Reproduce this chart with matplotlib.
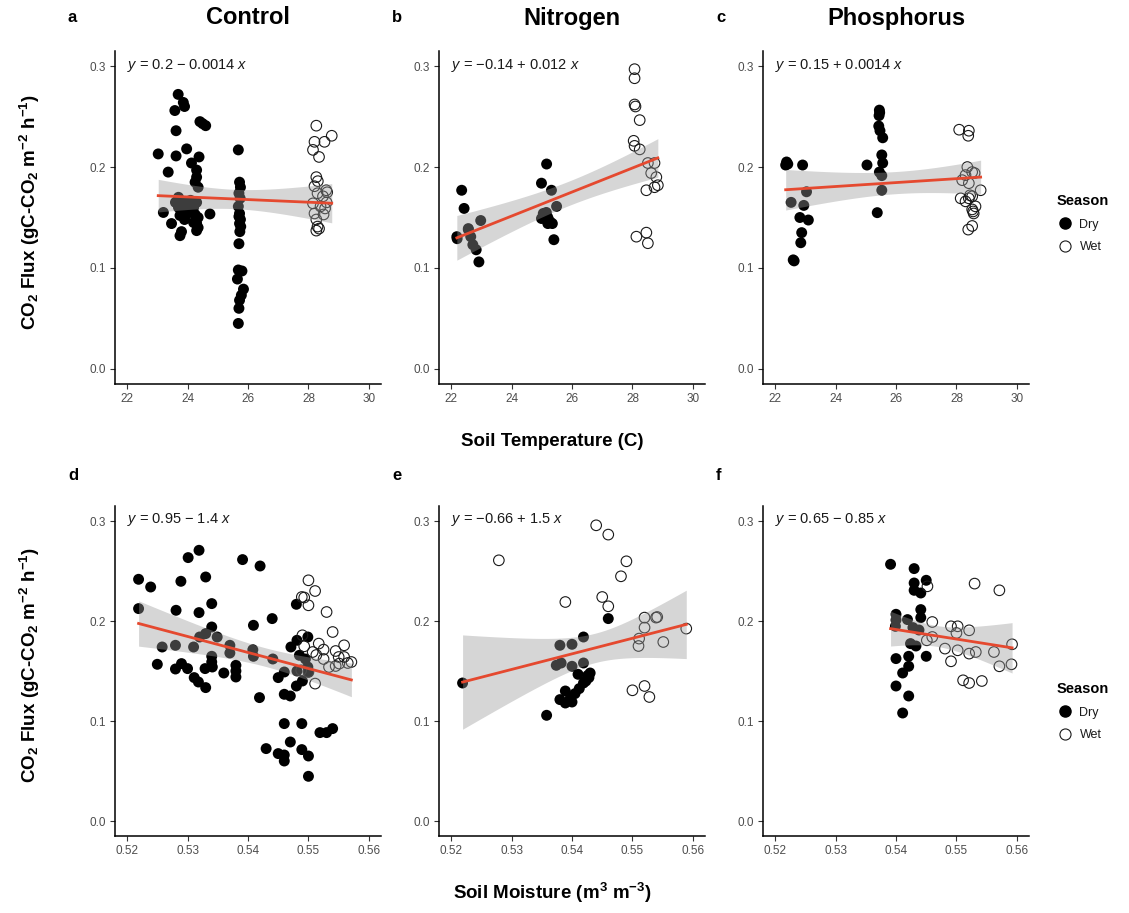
import numpy as np
import matplotlib
matplotlib.use("Agg")
import matplotlib.pyplot as plt
from matplotlib.lines import Line2D

plt.rcParams['font.family'] = ['Liberation Sans', 'DejaVu Sans']
plt.rcParams['mathtext.fontset'] = 'custom'
plt.rcParams['mathtext.rm'] = 'Liberation Sans'
plt.rcParams['mathtext.it'] = 'Liberation Sans:italic'
plt.rcParams['mathtext.bf'] = 'Liberation Sans:bold'

# ---------------- data ----------------
panel_letters = ['a', 'b', 'c', 'd', 'e', 'f']
treatments = ['Control', 'Nitrogen', 'Phosphorus']
season_labels = ['Dry', 'Wet']
eq_labels = [r'$\mathit{y}$ = 0.2 − 0.0014 $\mathit{x}$',
             r'$\mathit{y}$ = −0.14 + 0.012 $\mathit{x}$',
             r'$\mathit{y}$ = 0.15 + 0.0014 $\mathit{x}$',
             r'$\mathit{y}$ = 0.95 − 1.4 $\mathit{x}$',
             r'$\mathit{y}$ = −0.66 + 1.5 $\mathit{x}$',
             r'$\mathit{y}$ = 0.65 − 0.85 $\mathit{x}$']
temp_ticks = [22, 24, 26, 28, 30]
moist_ticks = [0.52, 0.53, 0.54, 0.55, 0.56]
flux_ticks = [0.0, 0.1, 0.2, 0.3]

# Panel a: Control vs temperature
a_dry_x = [23.03, 23.69, 23.86, 23.9, 23.58, 23.62, 24.41, 24.6, 24.5, 23.97, 23.62, 23.36, 24.38, 24.13,
           24.3, 24.3, 24.25, 24.35, 23.7, 23.8, 23.75, 24.1, 24.2, 23.9, 23.6, 24.0, 24.3, 23.7, 23.85,
           24.15, 23.2, 24.74, 23.75, 23.9, 24.25, 24.35, 23.47, 23.8, 23.75, 24.3, 24.3, 24.35,
           23.9, 24.1, 24.2,
           25.68, 25.72, 25.75, 25.7, 25.74, 25.68, 25.72, 25.7, 25.75, 25.72, 25.76, 25.73, 25.7,
           25.68, 25.8, 25.65, 25.85, 25.78, 25.72, 25.7, 25.68]
a_dry_y = [0.213, 0.272, 0.264, 0.260, 0.256, 0.236, 0.245, 0.241, 0.243, 0.218, 0.211, 0.195, 0.210, 0.204,
           0.197, 0.190, 0.185, 0.180, 0.170, 0.166, 0.162, 0.167, 0.160, 0.158, 0.165, 0.163, 0.165, 0.160, 0.158,
           0.160, 0.155, 0.1535, 0.152, 0.150, 0.153, 0.150, 0.144, 0.136, 0.132, 0.144, 0.137, 0.140,
           0.148, 0.155, 0.145,
           0.217, 0.185, 0.180, 0.174, 0.169, 0.161, 0.154, 0.151, 0.148, 0.144, 0.141, 0.136, 0.124,
           0.098, 0.097, 0.089, 0.079, 0.073, 0.068, 0.060, 0.045]
a_wet_x = [28.26, 28.77, 28.53, 28.2, 28.15, 28.35, 28.26, 28.31, 28.2, 28.59, 28.3, 28.48, 28.15, 28.4,
           28.55, 28.2, 28.5, 28.26, 28.35, 28.3, 28.26, 28.6, 28.62]
a_wet_y = [0.241, 0.231, 0.225, 0.225, 0.217, 0.210, 0.190, 0.186, 0.181, 0.177, 0.174, 0.171, 0.164, 0.161,
           0.159, 0.154, 0.153, 0.148, 0.139, 0.141, 0.137, 0.165, 0.175]

# Panel b: Nitrogen vs temperature
b_dry_x = [22.35, 22.43, 22.98, 22.57, 22.19, 22.2, 22.57, 22.65, 22.72, 22.83, 22.92,
           25.16, 24.99, 25.32, 25.49, 25.05, 25.15, 24.99, 25.27, 25.2, 25.35, 25.4, 25.2]
b_dry_y = [0.177, 0.159, 0.147, 0.139, 0.131, 0.129, 0.138, 0.131, 0.123, 0.118, 0.106,
           0.203, 0.184, 0.177, 0.161, 0.154, 0.155, 0.149, 0.146, 0.144, 0.144, 0.128, 0.150]
b_wet_x = [28.07, 28.07, 28.07, 28.1, 28.24, 28.04, 28.07, 28.24, 28.51, 28.73, 28.62, 28.79, 28.84,
           28.73, 28.46, 28.13, 28.46, 28.51]
b_wet_y = [0.297, 0.288, 0.262, 0.260, 0.2465, 0.226, 0.221, 0.2175, 0.204, 0.204, 0.194, 0.190, 0.182,
           0.180, 0.177, 0.131, 0.135, 0.1245]

# Panel c: Phosphorus vs temperature
c_dry_x = [22.38, 22.42, 22.35, 22.91, 22.53, 23.04, 22.95, 22.82, 23.1, 22.88, 22.85, 22.6, 22.63,
           25.45, 25.46, 25.44, 25.43, 25.47, 25.56, 25.53, 25.56, 25.04, 25.45, 25.53, 25.53, 25.38]
c_dry_y = [0.205, 0.203, 0.202, 0.202, 0.165, 0.1755, 0.162, 0.150, 0.1475, 0.135, 0.125, 0.108, 0.107,
           0.2564, 0.254, 0.251, 0.2406, 0.236, 0.229, 0.212, 0.204, 0.202, 0.195, 0.1915, 0.177, 0.1548]
c_wet_x = [28.09, 28.41, 28.39, 28.36, 28.52, 28.3, 28.6, 28.19, 28.41, 28.8, 28.52, 28.14, 28.41, 28.63,
           28.52, 28.57, 28.55, 28.52, 28.39, 28.3, 28.45]
c_wet_y = [0.237, 0.236, 0.231, 0.200, 0.195, 0.192, 0.194, 0.187, 0.184, 0.177, 0.171, 0.169, 0.169, 0.161,
           0.158, 0.154, 0.156, 0.1416, 0.138, 0.166, 0.172]

# Panel d: Control vs moisture
d_dry_x = [0.5219, 0.5219, 0.5239, 0.5301, 0.5319, 0.5289, 0.533, 0.5281, 0.5319, 0.534, 0.5391, 0.542,
           0.544, 0.5409, 0.534, 0.548, 0.5499, 0.5481, 0.5471,
           0.5258, 0.528, 0.531, 0.532, 0.533, 0.5349, 0.537, 0.537, 0.5408, 0.5409, 0.5441, 0.534, 0.534,
           0.5485, 0.5495, 0.5481, 0.5499, 0.55,
           0.525, 0.528, 0.529, 0.53, 0.5311, 0.5318, 0.533, 0.5329, 0.5341, 0.536, 0.538, 0.538, 0.538,
           0.545, 0.546, 0.548, 0.549, 0.5419, 0.546, 0.547,
           0.546, 0.5489, 0.543, 0.545, 0.546, 0.546, 0.547, 0.5489, 0.55, 0.55, 0.5519, 0.553, 0.554]
d_dry_y = [0.2417, 0.2124, 0.234, 0.2634, 0.2707, 0.2397, 0.244, 0.2107, 0.2084, 0.2174, 0.2614, 0.255,
           0.2024, 0.1957, 0.194, 0.2167, 0.184, 0.1807, 0.174,
           0.174, 0.1757, 0.174, 0.184, 0.1874, 0.184, 0.1757, 0.168, 0.1713, 0.1647, 0.162, 0.1647, 0.159,
           0.1657, 0.162, 0.150, 0.154, 0.149,
           0.1567, 0.152, 0.1574, 0.1524, 0.1434, 0.139, 0.1334, 0.1524, 0.154, 0.148, 0.1557, 0.150, 0.144,
           0.1434, 0.149, 0.135, 0.140, 0.1234, 0.1267, 0.125,
           0.0974, 0.0974, 0.0724, 0.0674, 0.066, 0.060, 0.079, 0.0714, 0.065, 0.0447, 0.0884, 0.0884, 0.0924]
d_wet_x = [0.55, 0.5511, 0.5489, 0.5493, 0.55, 0.553, 0.554, 0.549, 0.5493, 0.5517, 0.5525, 0.5507, 0.5559,
           0.555, 0.5559, 0.5571, 0.5551, 0.5534, 0.5545, 0.5488, 0.55, 0.5511, 0.5513, 0.5525, 0.5545, 0.5565]
d_wet_y = [0.2407, 0.230, 0.224, 0.2235, 0.2157, 0.209, 0.189, 0.1857, 0.1747, 0.1774, 0.1714, 0.169, 0.1757,
           0.164, 0.164, 0.159, 0.1574, 0.154, 0.155, 0.1507, 0.149, 0.1374, 0.166, 0.162, 0.170, 0.158]

# Panel e: Nitrogen vs moisture
e_dry_x = [0.5219, 0.546, 0.5419, 0.538, 0.54, 0.5374, 0.5382, 0.54, 0.5419, 0.541, 0.543, 0.5428, 0.5419,
           0.5412, 0.5405, 0.5389, 0.538, 0.5389, 0.54, 0.5397, 0.5358, 0.5423, 0.5426]
e_dry_y = [0.138, 0.2024, 0.184, 0.1757, 0.1767, 0.1557, 0.158, 0.1547, 0.158, 0.1467, 0.148, 0.1434, 0.138,
           0.1324, 0.1274, 0.130, 0.1214, 0.118, 0.119, 0.1225, 0.1057, 0.140, 0.1455]
e_wet_x = [0.544, 0.546, 0.5279, 0.549, 0.5481, 0.5389, 0.545, 0.546, 0.552, 0.5539, 0.5541, 0.552, 0.5589,
           0.5511, 0.5551, 0.551, 0.55, 0.552, 0.5528]
e_wet_y = [0.2957, 0.2864, 0.2607, 0.2597, 0.2447, 0.219, 0.224, 0.2147, 0.2034, 0.2034, 0.2040, 0.1934, 0.1924,
           0.1824, 0.179, 0.175, 0.1307, 0.135, 0.124]

# Panel f: Phosphorus vs moisture
f_dry_x = [0.5391, 0.543, 0.543, 0.545, 0.543, 0.5441, 0.5441, 0.5441, 0.54, 0.54, 0.5419, 0.5399, 0.5428,
           0.5438, 0.5424, 0.5433, 0.54, 0.5421, 0.545, 0.5421, 0.5411, 0.54, 0.5421, 0.5411]
f_dry_y = [0.2567, 0.2524, 0.238, 0.2407, 0.2307, 0.228, 0.2114, 0.2034, 0.2067, 0.201, 0.2014, 0.1947, 0.1934,
           0.191, 0.1774, 0.175, 0.1624, 0.1647, 0.1647, 0.1547, 0.148, 0.135, 0.125, 0.108]
f_wet_x = [0.5452, 0.553, 0.5571, 0.546, 0.5491, 0.5502, 0.5521, 0.550, 0.546, 0.5451, 0.5592, 0.5481, 0.5502,
           0.5521, 0.5532, 0.5562, 0.5491, 0.5571, 0.5591, 0.5511, 0.5521, 0.5542]
f_wet_y = [0.2347, 0.2374, 0.2307, 0.199, 0.1947, 0.1947, 0.1907, 0.188, 0.184, 0.1807, 0.1767, 0.1724, 0.1707,
           0.1674, 0.169, 0.169, 0.1597, 0.1547, 0.1567, 0.1407, 0.138, 0.140]

panels = [(a_dry_x, a_dry_y, a_wet_x, a_wet_y), (b_dry_x, b_dry_y, b_wet_x, b_wet_y),
          (c_dry_x, c_dry_y, c_wet_x, c_wet_y), (d_dry_x, d_dry_y, d_wet_x, d_wet_y),
          (e_dry_x, e_dry_y, e_wet_x, e_wet_y), (f_dry_x, f_dry_y, f_wet_x, f_wet_y)]

# ---------------- helpers ----------------
def t95(df):
    z = 1.959964
    return z + (z**3 + z) / (4 * df) + (5 * z**5 + 16 * z**3 + 3 * z) / (96 * df**2)

def fit_ci(x, y):
    x = np.asarray(x, float); y = np.asarray(y, float)
    n = len(x)
    b, a = np.polyfit(x, y, 1)
    resid = y - (a + b * x)
    s = np.sqrt(np.sum(resid**2) / (n - 2))
    xm = x.mean(); sxx = np.sum((x - xm)**2)
    xg = np.linspace(x.min(), x.max(), 100)
    yg = a + b * xg
    se = s * np.sqrt(1.0 / n + (xg - xm)**2 / sxx)
    h = t95(n - 2) * se
    return xg, yg, yg - h, yg + h

# ---------------- figure ----------------
W, H = 1129, 913
fig = plt.figure(figsize=(W / 100, H / 100), dpi=100)

lefts = [115, 439, 763]
aw = 266
top_row = (51, 384)
bot_row = (506, 836)

axes = []
for r, (ytop, ybot) in enumerate([top_row, bot_row]):
    for c in range(3):
        ax = fig.add_axes([lefts[c] / W, 1 - ybot / H, aw / W, (ybot - ytop) / H])
        axes.append(ax)

red = '#e5492f'
for i, ax in enumerate(axes):
    dx, dy, wx, wy = panels[i]
    ax.scatter(dx, dy, s=62, c='black', edgecolors='none', zorder=2)
    ax.scatter(wx, wy, s=58, facecolors='none', edgecolors='#1a1a1a', linewidths=0.8, zorder=2)
    xg, yg, lo, hi = fit_ci(list(dx) + list(wx), list(dy) + list(wy))
    ax.fill_between(xg, lo, hi, color='#999999', alpha=0.4, linewidth=0, zorder=3)
    ax.plot(xg, yg, color=red, lw=2.0, zorder=4)

    if i < 3:
        ax.set_xlim(21.6, 30.4)
        ax.set_xticks(temp_ticks)
        ax.set_xticklabels([str(t) for t in temp_ticks])
    else:
        ax.set_xlim(0.518, 0.562)
        ax.set_xticks(moist_ticks)
        ax.set_xticklabels(['%.2f' % t for t in moist_ticks])
    ax.set_ylim(-0.015, 0.315)
    ax.set_yticks(flux_ticks)
    ax.set_yticklabels(['%.1f' % t for t in flux_ticks])
    for sp in ['top', 'right']:
        ax.spines[sp].set_visible(False)
    for sp in ['left', 'bottom']:
        ax.spines[sp].set_linewidth(1.1)
        ax.spines[sp].set_color('black')
    ax.tick_params(direction='out', length=3.5, width=0.8, color='#333333',
                   labelcolor='#4d4d4d', labelsize=8.5, pad=3)
    ax.text(0.045, 0.955 if i < 3 else 0.958, eq_labels[i], transform=ax.transAxes,
            ha='left', va='center', fontsize=10.5, color='#1a1a1a')

# panel letters and titles
for i in range(6):
    row = i // 3
    fig.text((lefts[i % 3] - 47) / W, 1 - (18 if row == 0 else 475) / H, panel_letters[i],
             fontsize=12, fontweight='bold', ha='left', va='center')
for c in range(3):
    fig.text((lefts[c] + aw / 2) / W, 1 - 18 / H, treatments[c], fontsize=17,
             fontweight='bold', ha='center', va='center')

# axis labels
fig.text(552 / W, 1 - 441 / H, 'Soil Temperature (C)', fontsize=13.5, fontweight='bold',
         ha='center', va='center')
fig.text(552 / W, 1 - 893 / H, r'Soil Moisture (m$^{\mathbf{3}}$ m$^{\mathbf{-3}}$)', fontsize=13.5,
         fontweight='bold', ha='center', va='center')
ylab = r'CO$_{\mathbf{2}}$ Flux (gC-CO$_{\mathbf{2}}$ m$^{\mathbf{-2}}$ h$^{\mathbf{-1}}$)'
for yc in [212, 665]:
    fig.text(30 / W, 1 - yc / H, ylab, fontsize=13.5, fontweight='bold', rotation=90,
             ha='center', va='center')

# legends
handles = [Line2D([], [], marker='o', linestyle='none', markersize=8, markerfacecolor='black',
                  markeredgecolor='black'),
           Line2D([], [], marker='o', linestyle='none', markersize=8, markerfacecolor='none',
                  markeredgecolor='#1a1a1a', markeredgewidth=0.8)]
for ytitle in [189, 677]:
    leg = fig.legend(handles, season_labels, title='Season', loc='upper left',
                     bbox_to_anchor=(1052 / W, 1 - ytitle / H), frameon=False,
                     fontsize=9, title_fontsize=10.5, alignment='left',
                     handletextpad=0.6, labelspacing=0.85, handlelength=1.2, borderaxespad=0)
    leg.get_title().set_fontweight('bold')
    for t in leg.get_texts():
        t.set_color('#1a1a1a')

fig.savefig('out.png', dpi=100)
